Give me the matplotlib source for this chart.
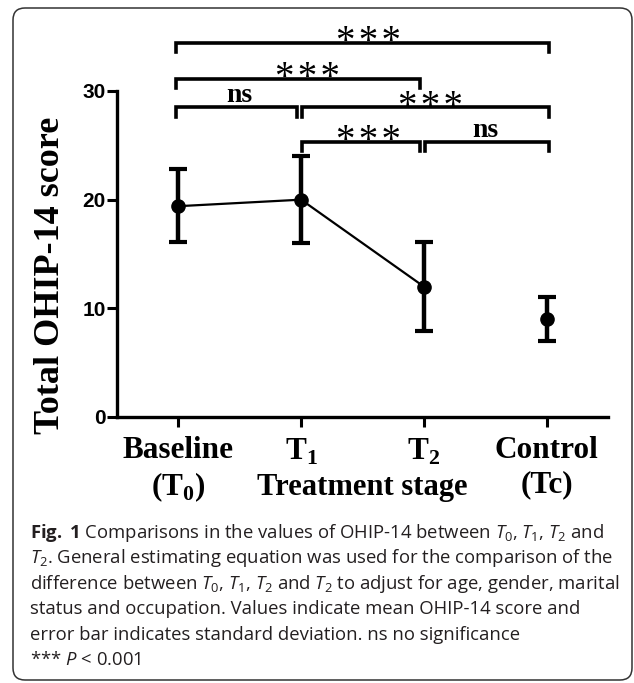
"""OHIP-14 total score by treatment stage, mean +/- SD with pairwise brackets."""
import numpy as np
import matplotlib
matplotlib.use("Agg")
import matplotlib.pyplot as plt
from matplotlib.patches import FancyBboxPatch
from matplotlib.transforms import IdentityTransform

plt.rcParams["mathtext.fontset"] = "custom"
plt.rcParams["mathtext.rm"] = "Open Sans"
plt.rcParams["mathtext.it"] = "Open Sans:italic"
plt.rcParams["mathtext.bf"] = "Open Sans:bold"

stages = [r"Baseline" "\n" r"(T$_\mathregular{0}$)", r"T$_\mathregular{1}$",
          r"T$_\mathregular{2}$", "Control\n(Tc)"]
mean = [19.4, 20.0, 12.0, 9.0]
sd_low = [16.1, 16.0, 7.9, 7.0]
sd_high = [22.8, 24.0, 16.1, 11.0]
yticks = [0, 10, 20, 30]

# pairwise comparisons (group i, group j, label)
pairs = [(0, 3, "***"), (0, 2, "***"), (0, 1, "ns"), (1, 3, "***"), (1, 2, "***"), (2, 3, "ns")]
levels = [34.4, 31.1, 28.5, 28.5, 25.3, 25.3]

caption = [
    r"$\mathbf{Fig.}$ $\mathbf{1}$ Comparisons in the values of OHIP-14 between "
    r"$\mathit{T}_\mathregular{0}$, $\mathit{T}_\mathregular{1}$, $\mathit{T}_\mathregular{2}$ and",
    r"$\mathit{T}_\mathregular{2}$. General estimating equation was used for the comparison of the",
    r"difference between $\mathit{T}_\mathregular{0}$, $\mathit{T}_\mathregular{1}$, "
    r"$\mathit{T}_\mathregular{2}$ and $\mathit{T}_\mathregular{2}$ to adjust for age, gender, marital",
    "status and occupation. Values indicate mean OHIP-14 score and",
    "error bar indicates standard deviation. ns no significance",
    r"*** $\mathit{P}$ < 0.001",
]

W, H = 634, 683
fig = plt.figure(figsize=(W / 100, H / 100), dpi=100)
ax = fig.add_axes([117 / W, (H - 417) / H, (608 - 117) / W, (417 - 91) / H])

x = np.arange(len(stages))
m = np.array(mean)
err = [m - np.array(sd_low), np.array(sd_high) - m]
ax.plot(x[:3], m[:3], color="black", lw=1.6, zorder=2)
ax.errorbar(x, m, yerr=err, fmt="o", color="black", ms=9.5, elinewidth=3.2,
            capsize=6.5, capthick=3.0, zorder=3)

ax.set_xlim(-0.5, 3.5)
ax.set_ylim(0, 30)
ax.set_yticks(yticks)
ax.set_xticks(x)
ax.set_xticklabels(stages, family="Liberation Serif", weight="bold", fontsize=22.5,
                   linespacing=1.2)
for t in ax.get_yticklabels():
    t.set_family("Liberation Sans")
    t.set_weight("bold")
    t.set_fontsize(15)
ax.tick_params(axis="both", width=2.2, length=7, color="black")
ax.tick_params(axis="y", pad=1)
ax.tick_params(axis="x", pad=7)
for s in ["top", "right"]:
    ax.spines[s].set_visible(False)
for s in ["left", "bottom"]:
    ax.spines[s].set_linewidth(2.4)

ax.set_ylabel("Total OHIP-14 score", family="Liberation Serif", weight="bold", fontsize=26)
ax.yaxis.set_label_coords(-0.136, 0.435)
ax.yaxis.label.set_va("center")
ax.set_xlabel("Treatment stage", family="Liberation Serif", weight="bold", fontsize=22)
ax.xaxis.set_label_coords(0.5, -0.215)
ax.xaxis.label.set_va("center")

# significance brackets
for (i, j, lab), yb in zip(pairs, levels):
    left = i + (0.01 if i > 0 else -0.02)
    right = j + (0.02 if j == 3 else -0.03)
    ax.plot([left, left, right, right], [yb - 0.85, yb, yb, yb - 0.85], color="black",
            lw=2.6, clip_on=False, solid_joinstyle="miter")
    mid = (i + j) / 2
    if lab == "ns":
        ax.text(mid, yb + 0.45, lab, ha="center", va="baseline", family="Liberation Serif",
                weight="bold", fontsize=20, clip_on=False)
    else:
        ax.text(mid + 0.05, yb - 0.85, "\u200a".join(lab), ha="center", va="baseline",
                family="Liberation Serif", fontsize=28, clip_on=False)

# rounded frame around the panel and caption
frame = FancyBboxPatch((13, 3), 619, 672, boxstyle="round,pad=0,rounding_size=12",
                       transform=IdentityTransform(), fill=False, ec="#333333", lw=1.1)
fig.patches.append(frame)

for k, line in enumerate(caption):
    fig.text(30 / W, (H - 538 - 25.4 * k) / H, line, ha="left", va="baseline",
             family="Open Sans", fontsize=13.3, color="#231f20")

fig.savefig("out.png", dpi=100)
